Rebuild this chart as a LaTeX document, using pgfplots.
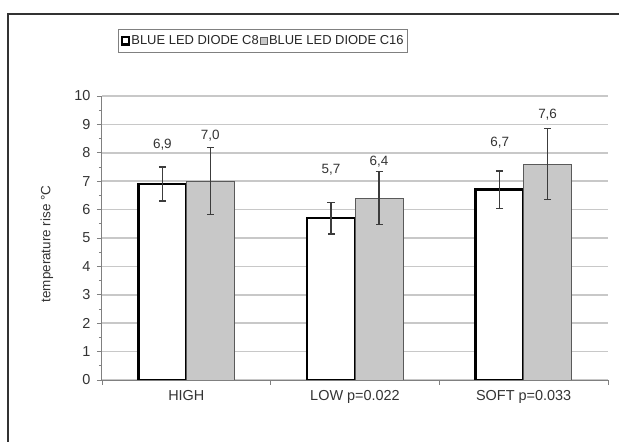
\documentclass[border=0pt]{standalone}
\usepackage{pgfplots}
\pgfplotsset{compat=1.18}
\usepackage{fontspec}
\setmainfont{Liberation Sans}
\definecolor{gridc}{RGB}{200,200,200}
\definecolor{barg}{RGB}{200,200,200}
\definecolor{bardraw}{RGB}{90,90,90}
\definecolor{axc}{RGB}{128,128,128}
\definecolor{errc}{RGB}{60,60,60}
\begin{document}
\begin{tikzpicture}
\path[use as bounding box] (-102bp,-62bp) rectangle (517bp,380bp);
\draw[line width=1.2bp, black!80] (-94bp,-62bp) -- (-94bp,366bp) -- (517bp,366bp);
\begin{axis}[
  at={(0,0)}, anchor=south west,
  scale only axis, width=506bp, height=284bp,
  xmin=-0.5, xmax=2.5, ymin=0, ymax=10,
  axis lines=left, axis line style={draw=axc, line width=1bp, -},
  tick align=outside,
  ytick={0,1,...,10}, minor y tick num=1,
  major tick length=5bp, minor tick length=3bp,
  tick style={draw=axc, line width=0.8bp},
  xtick={-0.5,0.5,1.5,2.5}, xticklabels={},
  extra x ticks={0,1,2},
  extra x tick labels={HIGH, LOW p=0.022, SOFT p=0.033},
  extra x tick style={major tick length=0pt, tick label style={yshift=-7bp}},
  ymajorgrids, grid style={draw=gridc, line width=1.5bp},
  ticklabel style={font=\fontsize{14.5}{16}\selectfont, text=black!80},
  yticklabel style={xshift=-3bp},
  /pgf/number format/assume math mode=true,
  ylabel={temperature rise °C},
  every axis y label/.style={at={(rel axis cs:-0.1087,0.479)}, rotate=90, anchor=center, font=\fontsize{13.5}{15}\selectfont, text=black!80},
  ybar, bar width=48bp,
  legend style={at={(rel axis cs:0.318,1.194)}, anchor=center, draw=gray, line width=0.8bp,
    legend columns=2, font=\fontsize{13}{15}\selectfont, text=black!85,
    inner xsep=3bp, inner ysep=4bp,
    nodes={inner xsep=1bp}},
  error bars/error bar style={draw=errc, line width=1.3bp},
  error bars/error mark options={rotate=90, mark size=3.5bp, line width=1.3bp, draw=errc},
]
\addplot+[bar shift=-24bp, fill=white, draw=black, line width=2.5bp,
  legend image code/.code={\draw[black, line width=2.2bp, fill=white] (0bp,-3.5bp) rectangle (7bp,3.5bp);},
  error bars/.cd, y dir=both, y explicit]
  coordinates {(0,6.9) +- (0,0.6) (1,5.7) +- (0,0.56) (2,6.7) +- (0,0.66)};
\addlegendentry{BLUE LED DIODE C8\hspace{5bp}}
\addplot+[bar shift=24bp, fill=barg, draw=bardraw, line width=1bp,
  legend image code/.code={\draw[bardraw, line width=1.2bp, fill=barg] (0bp,-3.5bp) rectangle (7bp,3.5bp);},
  error bars/.cd, y dir=both, y explicit]
  coordinates {(0,7.0) +- (0,1.18) (1,6.4) +- (0,0.93) (2,7.6) +- (0,1.25)};
\addlegendentry{BLUE LED DIODE C16}
\node[font=\fontsize{13.5}{15}\selectfont, text=black!80] at (axis cs:-0.142,8.27) {6,9};
\node[font=\fontsize{13.5}{15}\selectfont, text=black!80] at (axis cs:0.142,8.59) {7,0};
\node[font=\fontsize{13.5}{15}\selectfont, text=black!80] at (axis cs:0.858,7.39) {5,7};
\node[font=\fontsize{13.5}{15}\selectfont, text=black!80] at (axis cs:1.142,7.68) {6,4};
\node[font=\fontsize{13.5}{15}\selectfont, text=black!80] at (axis cs:1.858,8.35) {6,7};
\node[font=\fontsize{13.5}{15}\selectfont, text=black!80] at (axis cs:2.142,9.33) {7,6};
\end{axis}
\end{tikzpicture}
\end{document}
